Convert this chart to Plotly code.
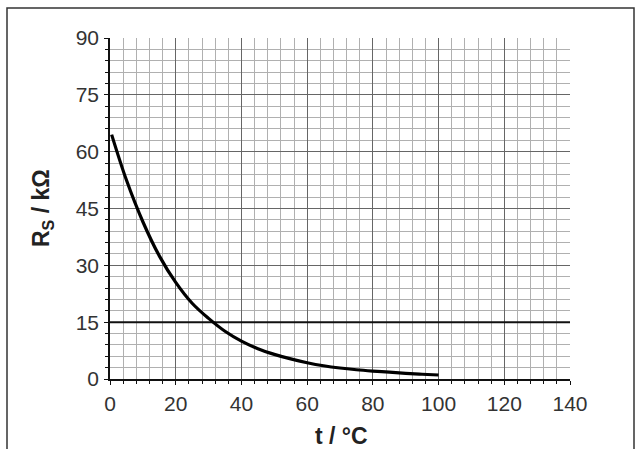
import plotly.graph_objects as go

# Data
t_values = [0.5, 5, 10, 15, 20, 25, 30, 35, 40, 45, 50, 55, 60, 65, 70, 75, 80, 85, 90, 95, 100]
rs_values = [64.5, 52.5, 41.5, 32.5, 25.5, 20, 16, 12.6, 10, 8.0, 6.5, 5.3, 4.3, 3.5, 2.9, 2.45, 2.1, 1.8, 1.5, 1.25, 1.05]
threshold_rs = 15
x_ticks = [0, 20, 40, 60, 80, 100, 120, 140]
y_ticks = [0, 15, 30, 45, 60, 75, 90]

W, H = 637, 449
ML, MR, MT, MB = 110, 67, 38, 70
PW, PH = W - ML - MR, H - MT - MB

def px_x(p):
    return (p - ML) / PW

def px_y(p):
    return (H - MB - p) / PH

fig = go.Figure()
fig.add_trace(go.Scatter(x=[x_ticks[0], x_ticks[-1]], y=[threshold_rs, threshold_rs], mode="lines",
                         line=dict(color="#111111", width=2), hoverinfo="skip", showlegend=False))
fig.add_trace(go.Scatter(x=t_values, y=rs_values, mode="lines",
                         line=dict(color="#000000", width=3.2, shape="spline", smoothing=1.0),
                         showlegend=False))

tick_font = dict(family="Liberation Sans, Arial, sans-serif", size=21, color="#333333")

fig.update_xaxes(range=[0, 140], tickvals=x_ticks, ticktext=[str(v) for v in x_ticks],
                 showgrid=True, gridcolor="#666666", gridwidth=1.3,
                 showline=True, linecolor="#111111", linewidth=1.5, zeroline=False,
                 ticks="outside", ticklen=4, tickcolor="#111111", tickfont=tick_font,
                 ticklabelstandoff=1,
                 minor=dict(dtick=4, tick0=0, showgrid=True, gridcolor="#b0b0b0", gridwidth=1,
                            ticks="outside", ticklen=3, tickcolor="#111111"))
fig.update_yaxes(range=[0, 90], tickvals=y_ticks, ticktext=[str(v) for v in y_ticks],
                 showgrid=True, gridcolor="#666666", gridwidth=1.3,
                 showline=True, linecolor="#111111", linewidth=1.5, zeroline=False,
                 ticks="outside", ticklen=4, tickcolor="#111111", tickfont=tick_font,
                 ticklabelstandoff=1,
                 minor=dict(dtick=3, tick0=0, showgrid=True, gridcolor="#b0b0b0", gridwidth=1,
                            ticks="outside", ticklen=3, tickcolor="#111111"))

fig.add_shape(type="rect", xref="paper", yref="paper",
              x0=px_x(7), x1=px_x(634), y0=px_y(8), y1=px_y(460),
              line=dict(color="#333333", width=1.5), fillcolor="rgba(0,0,0,0)")

title_font = dict(family="Liberation Sans, Arial, sans-serif", size=23, color="#222222")
fig.add_annotation(text="<b>t / °C</b>", xref="paper", yref="paper", x=px_x(341), y=px_y(436),
                   xanchor="center", yanchor="middle", showarrow=False, font=title_font)
fig.add_annotation(text="<b>R<sub>S</sub> / kΩ</b>", xref="paper", yref="paper", x=px_x(42), y=px_y(208),
                   xanchor="center", yanchor="middle", textangle=-90, showarrow=False, font=title_font)

fig.update_layout(width=W, height=H, margin=dict(l=ML, r=MR, t=MT, b=MB, pad=0),
                  paper_bgcolor="white", plot_bgcolor="white", showlegend=False)

fig.write_html("out.html")
